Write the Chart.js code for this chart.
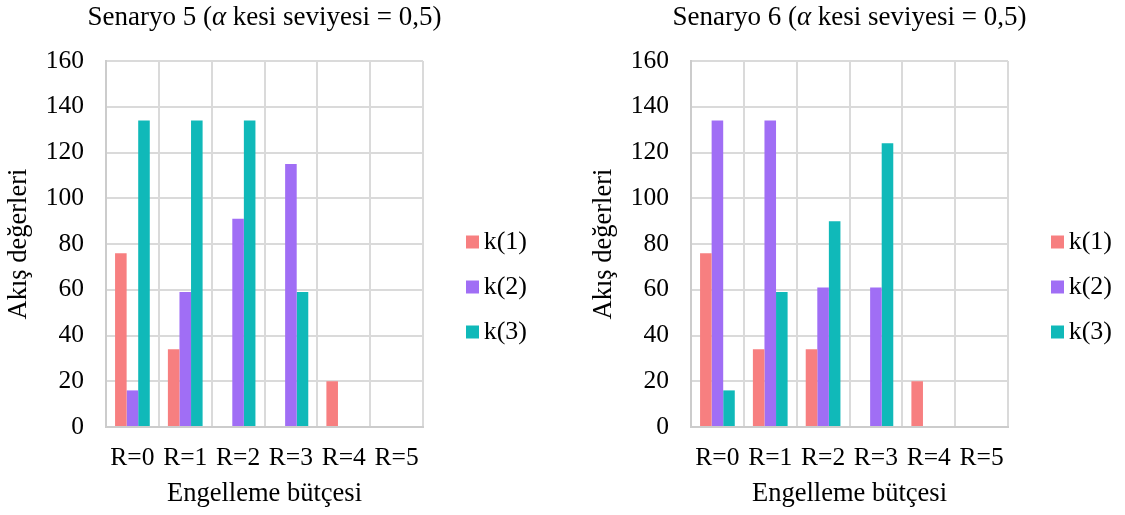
<!DOCTYPE html>
<html>
<head>
<meta charset="utf-8">
<script src="https://cdn.jsdelivr.net/npm/chart.js@4.4.1/dist/chart.umd.min.js"></script>
<style>
  html, body { margin: 0; padding: 0; background: #ffffff; }
  #wrap { position: relative; width: 1125px; height: 515px; overflow: hidden; }
  .pane { position: absolute; top: 0; width: 540px; height: 515px; }
</style>
</head>
<body>
<div id="wrap">
  <div class="pane" style="left:0"><canvas id="chart5" width="540" height="515"></canvas></div>
  <div class="pane" style="left:585px"><canvas id="chart6" width="540" height="515"></canvas></div>
</div>
<script>
// Budget categories on the x axis
const categories = ['R=0', 'R=1', 'R=2', 'R=3', 'R=4', 'R=5'];

// Series labels and colours
const seriesNames = ['k(1)', 'k(2)', 'k(3)'];
const seriesColors = ['#F77F80', '#A06EF5', '#10B9B9'];

// Scenario 5 flow values
const s5K1 = [76, 34, 0, 0, 20, 0];
const s5K2 = [16, 59, 91, 115, 0, 0];
const s5K3 = [134, 134, 134, 59, 0, 0];

// Scenario 6 flow values
const s6K1 = [76, 34, 34, 0, 20, 0];
const s6K2 = [134, 134, 61, 61, 0, 0];
const s6K3 = [16, 59, 90, 124, 0, 0];

// Value axis ticks
const yMin = 0;
const yMax = 160;
const yStep = 20;

// Chart titles (the alpha is set in italics)
const titleStart = ['Senaryo 5 (', 'Senaryo 6 ('];
const titleGreek = 'α';
const titleEnd = ' kesi seviyesi = 0,5)';

const xTitle = 'Engelleme bütçesi';
const yTitle = 'Akış değerleri';

const FAMILY = '"Liberation Serif", "Times New Roman", serif';
const TICK_FS = 25.5;
const AXIS_TITLE_FS = 26.5;
const LEGEND_FS = 26;
const GRID = '#dadada';
const BORDER = '#cccccc';

Chart.defaults.font.family = FAMILY;
Chart.defaults.color = '#000000';

// Title drawn in pieces so the Greek letter can be italic
const splitTitle = {
  id: 'splitTitle',
  afterDraw(chart, args, opts) {
    const ctx = chart.ctx;
    const area = chart.chartArea;
    ctx.save();
    ctx.fillStyle = '#000000';
    ctx.textAlign = 'left';
    ctx.textBaseline = 'alphabetic';
    const fontFor = p => (p.italic ? 'italic ' : '') + opts.size + 'px ' + FAMILY;
    let total = 0;
    const widths = opts.parts.map(p => {
      ctx.font = fontFor(p);
      const w = ctx.measureText(p.text).width;
      total += w;
      return w;
    });
    let x = (area.left + area.right) / 2 - total / 2;
    opts.parts.forEach((p, i) => {
      ctx.font = fontFor(p);
      ctx.fillText(p.text, x, opts.baseline);
      x += widths[i];
    });
    ctx.restore();
  }
};

// Places the legend block beside the plot
const legendPlacement = {
  id: 'legendPlacement',
  afterLayout(chart, args, opts) {
    const lg = chart.legend;
    if (!lg) return;
    const pad = lg.options.labels.padding;
    lg.left = opts.boxX - pad;
    lg.right = opts.textRight;
    lg.top = opts.firstRowTop - pad;
    lg.bottom = lg.top + chart.height;
  }
};

function buildChart(canvasId, idx, k1, k2, k3) {
  const values = [k1, k2, k3];
  return new Chart(document.getElementById(canvasId), {
    type: 'bar',
    data: {
      labels: categories,
      datasets: seriesNames.map((name, i) => ({
        label: name,
        data: values[i],
        backgroundColor: seriesColors[i],
        borderWidth: 0,
        categoryPercentage: 0.657,
        barPercentage: 1.0
      }))
    },
    plugins: [splitTitle, legendPlacement],
    options: {
      responsive: false,
      animation: false,
      layout: { padding: { top: 61, right: 37, bottom: 0, left: 0 } },
      plugins: {
        title: { display: false },
        tooltip: { enabled: false },
        legend: {
          display: true,
          position: 'right',
          align: 'start',
          maxWidth: 80,
          labels: {
            boxWidth: 13,
            boxHeight: 13,
            padding: 19,
            textAlign: 'right',
            color: '#000000',
            font: { size: LEGEND_FS }
          }
        },
        splitTitle: {
          size: 27,
          baseline: 25,
          parts: [
            { text: titleStart[idx], italic: false },
            { text: titleGreek, italic: true },
            { text: titleEnd, italic: false }
          ]
        },
        legendPlacement: { boxX: 466, textRight: 1112 - 585, firstRowTop: 229 }
      },
      scales: {
        x: {
          grid: { display: true, color: GRID, lineWidth: 2, offset: true, drawTicks: false },
          border: { display: true, color: BORDER, width: 2 },
          ticks: { padding: 16, color: '#000000', font: { size: TICK_FS }, maxRotation: 0, autoSkip: false },
          title: { display: true, text: xTitle, color: '#000000', font: { size: AXIS_TITLE_FS }, padding: { top: 0, bottom: 5.5 } },
          afterFit(scale) { scale.height = 88; }
        },
        y: {
          min: yMin,
          max: yMax,
          grid: { display: true, color: GRID, lineWidth: 2, drawTicks: false },
          border: { display: true, color: BORDER, width: 2 },
          ticks: { stepSize: yStep, padding: 22, color: '#000000', font: { size: TICK_FS } },
          title: { display: true, text: yTitle, color: '#000000', font: { size: AXIS_TITLE_FS }, padding: { top: 3, bottom: 0 } },
          afterFit(scale) { scale.width = 106; }
        }
      }
    }
  });
}

buildChart('chart5', 0, s5K1, s5K2, s5K3);
buildChart('chart6', 1, s6K1, s6K2, s6K3);
</script>
</body>
</html>
